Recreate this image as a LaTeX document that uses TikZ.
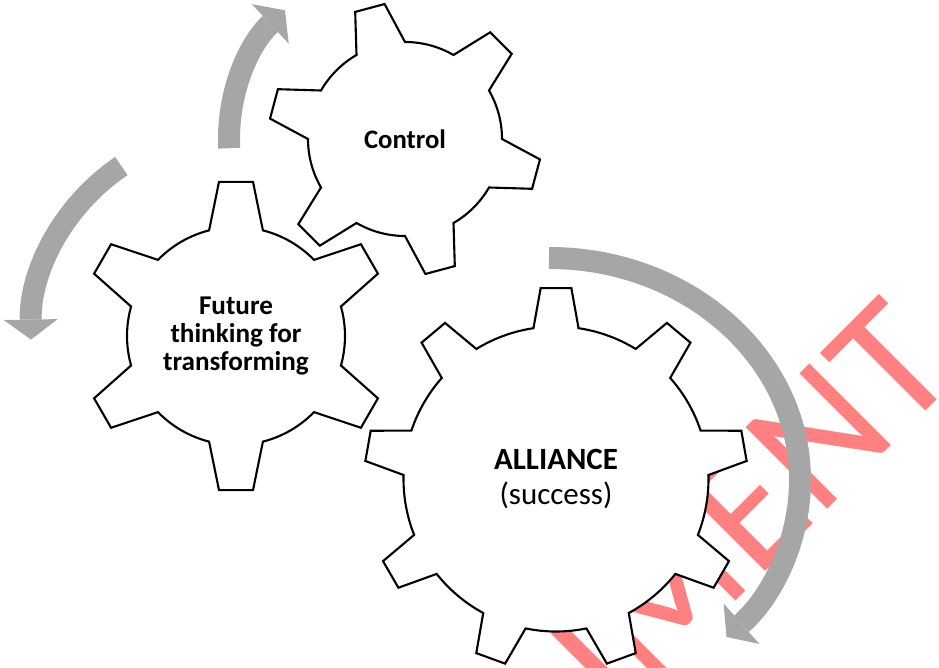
\documentclass[tikz,border=0pt]{standalone}
\usepackage{fontspec}
\setmainfont{Carlito}
\usepackage{tikz}
\usetikzlibrary{arrows.meta}
\definecolor{arrowgray}{RGB}{166,166,166}
\definecolor{markred}{RGB}{255,128,128}
\tikzset{
    gear/.style={draw=black, fill=white, line width=1.5pt, line join=miter}, % 齿轮轮廓
    flow/.style={arrowgray, line width=0.55cm, -{Triangle[width=1.35cm, length=0.5cm, line width=0pt]}}, % 灰色弧形箭头
    geartext/.style={align=center, font=\bfseries\fontsize{19.3}{20.1}\selectfont} % 齿轮中的文字
}
% 齿轮: 中心, 齿数, 第一齿角度, 齿根半径, 齿顶半径, 齿根半角, 齿顶半角
\newcommand{\cogwheel}[7]{%
    \begin{scope}[shift={#1}]
        \draw[gear] ({#3-#6}:#4)
            \foreach \k in {1,...,#2} {
                -- ({#3+360/#2*(\k-1)-#7}:#5) -- ({#3+360/#2*(\k-1)+#7}:#5)
                -- ({#3+360/#2*(\k-1)+#6}:#4)
                arc[start angle={#3+360/#2*(\k-1)+#6}, end angle={#3+360/#2*\k-#6}, radius=#4]
            } -- cycle;
    \end{scope}}

\begin{document}
\begin{tikzpicture}[x=0.025cm, y=0.025cm]
    \useasboundingbox (0,0) rectangle (939,-668);
    \clip (0,0) rectangle (939,-668);

    \coordinate (g1) at (236,-336);
    \coordinate (g2) at (405,-139);
    \coordinate (g3) at (556,-479);
    \coordinate (ring) at (549,-480);

    % 水印
    \node[markred, rotate=45, anchor=base east, inner sep=0pt, font=\fontsize{128}{128}\selectfont] (stamp) at (963,-374) {DOCUMENT};

    \cogwheel{(g1)}{6}{90}{109}{155}{14.3}{6.3}
    \cogwheel{(g2)}{6}{105}{97}{136.5}{15}{6.4}
    \cogwheel{(g3)}{9}{90}{152.5}{191.5}{8.5}{4.6}

    \node[geartext] (future) at (g1) {Future\\thinking for\\transforming};
    \node[geartext, font=\bfseries\fontsize{19}{20}\selectfont] (control) at (g2) {Control};
    \node[geartext, font=\fontsize{22}{25}\selectfont] (alliance) at (g3) {\textbf{ALLIANCE}\\(success)};

    \draw[flow] (g2) ++(183:176) arc[start angle=183, end angle=133, radius=176];
    \draw[flow] (g1) ++(124:205) arc[start angle=124, end angle=181, radius=205];
    \draw[flow] (ring) ++(0,222) arc[start angle=90, end angle=-45, x radius=251, y radius=222];
\end{tikzpicture}
\end{document}
